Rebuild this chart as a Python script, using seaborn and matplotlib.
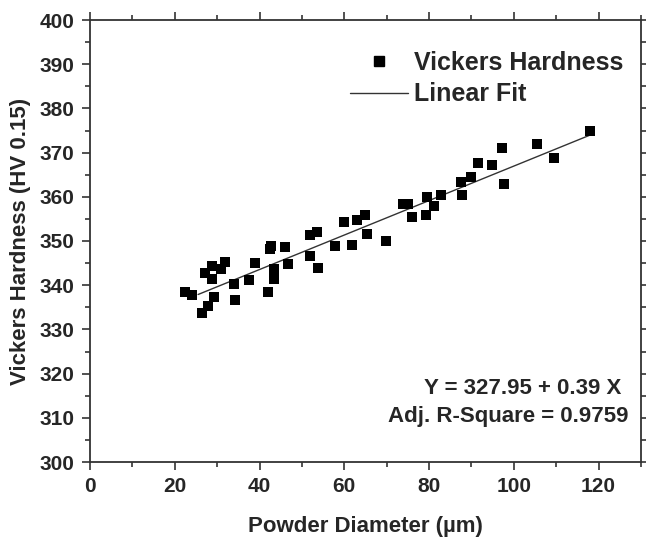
import numpy as np
import pandas as pd
import matplotlib
matplotlib.use("Agg")
import matplotlib.pyplot as plt
import seaborn as sns
from matplotlib.ticker import MultipleLocator
from matplotlib.lines import Line2D

diameter = [22.3, 24.0, 26.4, 27.2, 27.8, 28.7, 28.7, 29.2, 31.0, 31.8,
            34.0, 34.3, 37.5, 38.9, 42.1, 42.4, 42.7, 43.4, 43.5, 45.9,
            46.6, 52.0, 52.0, 53.5, 53.8, 57.9, 60.0, 61.9, 63.1, 65.0,
            65.3, 69.9, 73.9, 75.0, 75.9, 79.3, 79.6, 81.1, 82.7, 87.6,
            87.8, 90.0, 91.5, 94.8, 97.1, 97.6, 105.4, 109.4, 118.0]
hardness = [338.4, 337.7, 333.7, 342.7, 335.3, 344.4, 341.3, 337.4, 343.6, 345.3,
            340.3, 336.7, 341.1, 345.0, 338.5, 348.3, 348.8, 341.4, 343.6, 348.6,
            344.8, 351.4, 346.6, 352.1, 343.9, 348.9, 354.4, 349.1, 354.8, 355.8,
            351.6, 349.9, 358.3, 358.3, 355.4, 355.8, 359.9, 357.9, 360.3, 363.4,
            360.4, 364.4, 367.7, 367.3, 371.0, 362.8, 372.0, 368.7, 374.9]
fit_intercept = 327.95
fit_slope = 0.39
fit_range = [25.5, 118.0]
equation_text = "Y = 327.95 + 0.39 X"
r2_text = "Adj. R-Square = 0.9759"

sns.set_style("ticks")
plt.rcParams['font.family'] = ['Liberation Sans', 'DejaVu Sans']
plt.rcParams['font.weight'] = 'bold'

fig = plt.figure(figsize=(6.46, 5.42), dpi=100)
ax = fig.add_axes([90/646, 1-462/542, (641-90)/646, (462-20)/542])

df = pd.DataFrame({"x": diameter, "y": hardness})
fx = np.array(fit_range)
fit_df = pd.DataFrame({"x": fx, "y": fit_intercept + fit_slope * fx})

sns.lineplot(data=fit_df, x="x", y="y", ax=ax, color="#333333", lw=1.0, zorder=2)
sns.scatterplot(data=df, x="x", y="y", ax=ax, marker="s", s=60, color="black",
                edgecolor="black", linewidth=0, zorder=3)

ax.set_xlim(0, 130)
ax.set_ylim(300, 400)
ax.xaxis.set_major_locator(MultipleLocator(20))
ax.xaxis.set_minor_locator(MultipleLocator(10))
ax.yaxis.set_major_locator(MultipleLocator(10))
ax.yaxis.set_minor_locator(MultipleLocator(5))
ax.tick_params(axis='both', which='major', direction='out', length=6, width=1.2,
               labelsize=15, top=True, right=True, color='#333333', pad=5)
ax.tick_params(axis='both', which='minor', direction='out', length=3.5, width=1.2,
               top=True, right=True, color='#333333')
for sp in ax.spines.values():
    sp.set_linewidth(1.3)
    sp.set_color('#333333')
    sp.set_visible(True)

ax.set_xlabel("Powder Diameter (µm)", fontsize=16, fontweight='bold', labelpad=14)
ax.set_ylabel("Vickers Hardness (HV 0.15)", fontsize=16, fontweight='bold', labelpad=6)

handles = [Line2D([], [], marker='s', color='black', linestyle='None', markersize=7),
           Line2D([], [], color='#333333', lw=1.0)]
ax.legend(handles, ["Vickers Hardness", "Linear Fit"], loc='upper right',
          bbox_to_anchor=(1.0, 0.97), frameon=False, handlelength=2.3,
          handletextpad=0.25, borderaxespad=0.3, labelspacing=0.3,
          prop={'weight': 'bold', 'size': 18})

ax.text(0.965, 0.167, equation_text, transform=ax.transAxes, ha='right', va='center',
        fontsize=16, fontweight='bold')
ax.text(0.978, 0.102, r2_text, transform=ax.transAxes, ha='right', va='center',
        fontsize=16, fontweight='bold')

fig.savefig("out.png", dpi=100)
